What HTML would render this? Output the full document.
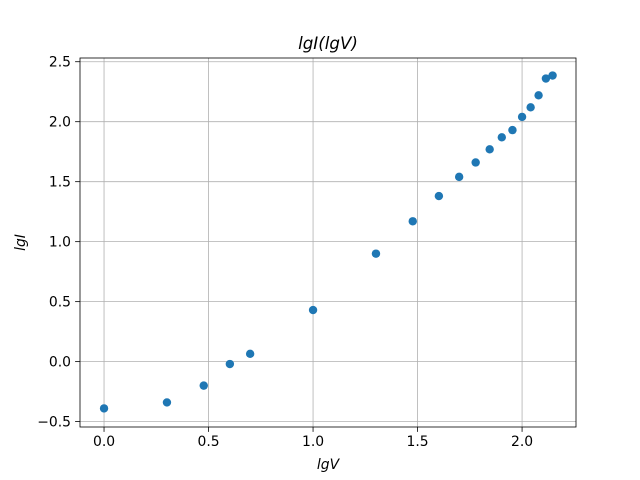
<!DOCTYPE html>
<html><head><meta charset="utf-8"><style>
html,body{margin:0;padding:0;background:#fff;}
svg{display:block;font-family:"DejaVu Sans","Liberation Sans",sans-serif;}
</style></head><body>
<svg id="chart" width="640" height="480"></svg>
<script>
const xValues=[0,0.301,0.477,0.602,0.699,1,1.301,1.477,1.602,1.699,1.778,1.845,1.903,1.954,2,2.041,2.079,2.114,2.146];
const yValues=[-0.39,-0.34,-0.20,-0.02,0.065,0.43,0.90,1.17,1.38,1.54,1.66,1.77,1.87,1.93,2.04,2.12,2.22,2.36,2.385];
const xTicks=[0,0.5,1,1.5,2];
const xTickLabels=["0.0","0.5","1.0","1.5","2.0"];
const yTicks=[-0.5,0,0.5,1,1.5,2,2.5];
const yTickLabels=["−0.5","0.0","0.5","1.0","1.5","2.0","2.5"];

const L=80,R=576,T=58,B=427;
const xmin=-0.115,xmax=2.258,ymin=-0.545,ymax=2.531;
const sx=v=>L+(v-xmin)/(xmax-xmin)*(R-L);
const sy=v=>B-(v-ymin)/(ymax-ymin)*(B-T);
const svg=document.getElementById('chart');
const NS='http://www.w3.org/2000/svg';
function mk(tag,attrs,parent){const e=document.createElementNS(NS,tag);for(const k in attrs)e.setAttribute(k,attrs[k]);(parent||svg).appendChild(e);return e;}

xTicks.forEach((t,i)=>{
  const x=sx(t);
  const g=mk('line',{x1:x,x2:x,y1:T,y2:B,stroke:'#b0b0b0','stroke-width':0.8});
  
  
  const tk=mk('line',{x1:x,x2:x,y1:B,y2:B+4.9,stroke:'#000','stroke-width':0.8});
  
  
  const tx=mk('text',{x:x,y:B+19,'font-size':13.9,'text-anchor':'middle',fill:'#000'});
  tx.textContent=xTickLabels[i];
  
  
});
yTicks.forEach((t,i)=>{
  const y=sy(t);
  const g=mk('line',{x1:L,x2:R,y1:y,y2:y,stroke:'#b0b0b0','stroke-width':0.8});
  
  
  const tk=mk('line',{x1:L-4.9,x2:L,y1:y,y2:y,stroke:'#000','stroke-width':0.8});
  
  
  const tx=mk('text',{x:L-9,y:y+5,'font-size':13.9,'text-anchor':'end',fill:'#000'});
  tx.textContent=yTickLabels[i];
  
  
});
xValues.forEach((v,i)=>{
  const c=mk('circle',{cx:sx(v),cy:sy(yValues[i]),r:4.2,fill:'#1f77b4'});
  
  
});
const fr=mk('rect',{x:L,y:T,width:R-L,height:B-T,fill:'none',stroke:'#000','stroke-width':0.8});


const ti=mk('text',{x:(L+R)/2,y:T-9,'font-size':16.7,'text-anchor':'middle','font-style':'italic'});
ti.textContent='lgI(lgV)';


const xl=mk('text',{x:(L+R)/2,y:469,'font-size':13.9,'text-anchor':'middle','font-style':'italic'});
xl.textContent='lgV';


const yl=mk('text',{x:25,y:(T+B)/2,'font-size':13.9,'text-anchor':'middle','font-style':'italic',transform:'rotate(-90 25 '+((T+B)/2)+')'});
yl.textContent='lgI';


</script>
</body></html>
